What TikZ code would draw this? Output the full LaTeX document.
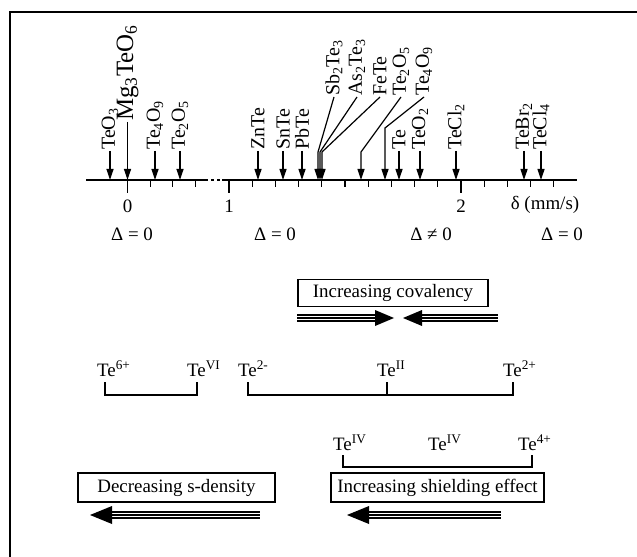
\documentclass[tikz,border=0pt]{standalone}
\usepackage{fontspec}
\setmainfont{Liberation Serif}
\usetikzlibrary{arrows.meta}
\begin{document}
\begin{tikzpicture}[x=1bp,y=-1bp,
  lbl/.style={rotate=90,anchor=west,inner sep=1bp,font=\fontsize{20}{22}\selectfont},
  biglbl/.style={lbl,font=\fontsize{25}{27}\selectfont},
  txt/.style={inner sep=0pt,font=\fontsize{19}{21}\selectfont},
  telbl/.style={inner sep=0pt,anchor=base west,font=\fontsize{19}{21}\selectfont},
  boxed/.style={draw,line width=1.3bp,inner sep=0pt,font=\fontsize{19}{21}\selectfont},
  darr/.style={-{Triangle[length=11bp,width=7bp]},line width=1.2bp},
  axisline/.style={line width=2bp},
  tickline/.style={line width=1.2bp},
  brk/.style={line width=1.2bp},
  band/.style={line width=1.5bp},
  headfill/.style={fill=black}]
\useasboundingbox (0,0) rectangle (637,557);
% frame
\draw[line width=1.5bp] (10,557) -- (10,12) -- (637,12);
% axis
\draw[axisline] (86,180) -- (205,180);
\draw[line width=1.5bp,dash pattern=on 3bp off 3bp] (205,180) -- (222,180);
\draw[axisline] (222,180) -- (577,180);
\foreach \v in {1,2,3} \draw[tickline] ({127.5+22.6*\v},180) -- ({127.5+22.6*\v},187);
\foreach \v in {1,...,9,11,12,13,14} \draw[tickline] ({229+23.2*\v},180) -- ({229+23.2*\v},187);
\draw[line width=1.6bp] (127.5,180) -- (127.5,193);
\draw[line width=1.6bp] (229,180) -- (229,193);
\draw[line width=1.6bp] (461,180) -- (461,193);
\node[txt] (n0) at (127.5,206) {0};
\node[txt] (n1) at (229,206) {1};
\node[txt] (n2) at (461,206) {2};
\node[txt] (unit) at (545,205) {δ (mm/s)};
% simple arrows
\foreach \nm/\x/\t in {TeO3/110/{TeO\textsubscript{3}},Te4O9/155/{Te\textsubscript{4}O\textsubscript{9}},Te2O5/180/{Te\textsubscript{2}O\textsubscript{5}},ZnTe/258/{ZnTe},SnTe/283/{SnTe},PbTe/302/{PbTe},Te/399/{Te},TeO2/420/{TeO\textsubscript{2}},TeCl2/456/{TeCl\textsubscript{2}},TeBr2/524/{TeBr\textsubscript{2}},TeCl4/541/{TeCl\textsubscript{4}}}{
  \coordinate (a\nm) at (\x,180);
  \node[lbl] (\nm) at (\x,151) {\t};
  \draw[darr] (\nm.west) -- (a\nm);
}
\coordinate (aMg) at (127.5,180);
\node[biglbl] (Mg) at (127.5,122) {Mg\textsubscript{3}TeO\textsubscript{6}};
\draw[darr] (Mg.west) -- (aMg);
% leader arrows
\node[lbl] (Sb) at (334,97) {Sb\textsubscript{2}Te\textsubscript{3}};
\node[lbl] (As) at (357,97) {As\textsubscript{2}Te\textsubscript{3}};
\node[lbl] (Fe) at (380,97) {FeTe};
\node[lbl] (TeOb) at (401,97) {Te\textsubscript{2}O\textsubscript{5}};
\node[lbl] (TeOc) at (424,97) {Te\textsubscript{4}O\textsubscript{9}};
\coordinate (kSb) at (318,152); \coordinate (aSb) at (318,180);
\coordinate (kAs) at (320,152); \coordinate (aAs) at (320,180);
\coordinate (kFe) at (322,152); \coordinate (aFe) at (322,180);
\coordinate (kTb) at (361,152); \coordinate (aTb) at (361,180);
\coordinate (kTc) at (385,128); \coordinate (aTc) at (385,180);
\draw[darr] (Sb.west) -- (kSb) -- (aSb);
\draw[darr] (As.west) -- (kAs) -- (aAs);
\draw[darr] (Fe.west) -- (kFe) -- (aFe);
\draw[darr] (TeOb.west) -- (kTb) -- (aTb);
\draw[darr] (TeOc.west) -- (kTc) -- (aTc);
% Delta row
\node[txt] (d1) at (132,234) {Δ = 0};
\node[txt] (d2) at (275,234) {Δ = 0};
\node[txt] (d3) at (431,234) {Δ ≠ 0};
\node[txt] (d4) at (562,234) {Δ = 0};
% covalency
\node[boxed,minimum width=190bp,minimum height=27bp] (cov) at (393,293) {Increasing covalency};
\foreach \o in {-3,0,3} \draw[band] (297,318+\o) -- (380,318+\o);
\fill[headfill] (375,310) -- (394,318) -- (375,326) -- cycle;
\foreach \o in {-3,0,3} \draw[band] (418,318+\o) -- (498,318+\o);
\fill[headfill] (422,310) -- (403,318) -- (422,326) -- cycle;
% Te row 1
\node[telbl] (t1) at (97,376) {Te\textsuperscript{6+}};
\node[telbl] (t2) at (187,376) {Te\textsuperscript{VI}};
\node[telbl] (t3) at (238,376) {Te\textsuperscript{2-}};
\node[telbl] (t4) at (377,376) {Te\textsuperscript{II}};
\node[telbl] (t5) at (503,376) {Te\textsuperscript{2+}};
\draw[brk] (105,382) -- (105,395) -- (197,395) -- (197,382);
\draw[brk] (248,382) -- (248,395) -- (513,395) -- (513,382);
\draw[brk] (387,382) -- (387,395);
% Te row 2
\node[telbl] (u1) at (333,450) {Te\textsuperscript{IV}};
\node[telbl] (u2) at (428,450) {Te\textsuperscript{IV}};
\node[telbl] (u3) at (518,450) {Te\textsuperscript{4+}};
\draw[brk] (343,455) -- (343,467) -- (532,467) -- (532,455);
% bottom boxes
\node[boxed,minimum width=197bp,minimum height=29bp] (sd) at (176.5,487.5) {Decreasing s-density};
\node[boxed,minimum width=213bp,minimum height=29bp] (sh) at (437.5,487.5) {Increasing shielding effect};
\foreach \o in {-3,0,3} \draw[band] (108,515+\o) -- (260,515+\o);
\fill[headfill] (112,506) -- (90,515) -- (112,524) -- cycle;
\foreach \o in {-3,0,3} \draw[band] (365,515+\o) -- (501,515+\o);
\fill[headfill] (369,506) -- (347,515) -- (369,524) -- cycle;
\end{tikzpicture}
\end{document}
